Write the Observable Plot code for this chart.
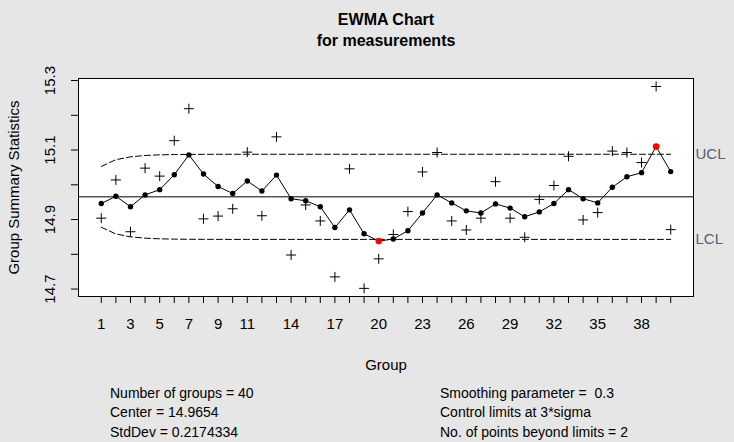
<!DOCTYPE html>
<html>
<head>
<meta charset="utf-8">
<script src="https://cdn.jsdelivr.net/npm/d3@7"></script>
<script src="https://cdn.jsdelivr.net/npm/@observablehq/plot@0.6"></script>
<style>
  html, body { margin: 0; padding: 0; background: #e6e6e6; }
  #chart { width: 734px; height: 442px; }
</style>
</head>
<body>
<div id="chart"></div>
<script>
// ---- data ----
const groups = [1,2,3,4,5,6,7,8,9,10,11,12,13,14,15,16,17,18,19,20,21,22,23,24,25,26,27,28,29,30,31,32,33,34,35,36,37,38,39,40];
const stats = [14.904,15.014,14.865,15.048,15.025,15.127,15.219,14.902,14.910,14.931,
               15.094,14.911,15.138,14.798,14.942,14.896,14.735,15.046,14.702,14.787,
               14.857,14.923,15.037,15.093,14.896,14.870,14.904,15.009,14.904,14.849,
               14.958,14.998,15.082,14.899,14.920,15.097,15.093,15.064,15.283,14.871];
const ewma = [14.946,14.967,14.937,14.971,14.986,15.029,15.086,15.031,14.995,14.975,
              15.011,14.982,15.028,14.960,14.954,14.937,14.877,14.928,14.859,14.838,
              14.844,14.868,14.919,14.971,14.948,14.925,14.919,14.945,14.933,14.908,
              14.922,14.946,14.986,14.960,14.948,14.993,15.023,15.035,15.110,15.038];
const ucl = [15.0529,15.0722,15.0805,15.0844,15.0862,15.0871,15.0875,15.0877,15.0878,15.0879,
             15.0879,15.0879,15.0879,15.0879,15.0879,15.0879,15.0879,15.0879,15.0879,15.0879,
             15.0879,15.0879,15.0879,15.0879,15.0879,15.0879,15.0879,15.0879,15.0879,15.0879,
             15.0879,15.0879,15.0879,15.0879,15.0879,15.0879,15.0879,15.0879,15.0879,15.0879];
const lcl = [14.8779,14.8586,14.8503,14.8464,14.8446,14.8437,14.8433,14.8431,14.8430,14.8429,
             14.8429,14.8429,14.8429,14.8429,14.8429,14.8429,14.8429,14.8429,14.8429,14.8429,
             14.8429,14.8429,14.8429,14.8429,14.8429,14.8429,14.8429,14.8429,14.8429,14.8429,
             14.8429,14.8429,14.8429,14.8429,14.8429,14.8429,14.8429,14.8429,14.8429,14.8429];
const center = 14.9654;
const xTickLabels = [1,3,5,7,9,11,14,17,20,23,26,29,32,35,38];
const yTicks = [14.7,14.8,14.9,15.0,15.1,15.2,15.3];
const yTickLabels = [14.7,14.9,15.1,15.3];
const titleLines = ["EWMA Chart", "for measurements"];
const statsLeft = ["Number of groups = 40", "Center = 14.9654", "StdDev = 0.2174334"];
const statsRight = ["Smoothing parameter =  0.3", "Control limits at 3*sigma", "No. of points beyond limits = 2"];

// ---- table built from the arrays ----
const rows = groups.map((g, i) => ({g, stat: stats[i], ewma: ewma[i], ucl: ucl[i], lcl: lcl[i]}));
const out = d => d.ewma > d.ucl || d.ewma < d.lcl;

const plusSymbol = {
  draw(context, size) {
    const s = Math.sqrt(size / Math.PI);
    context.moveTo(-s, 0); context.lineTo(s, 0);
    context.moveTo(0, -s); context.lineTo(0, s);
  }
};

const font = "'Liberation Sans', Arial, sans-serif";

const chart = Plot.plot({
  width: 734,
  height: 442,
  marginTop: 78,
  marginBottom: 146,
  marginLeft: 78,
  marginRight: 41,
  style: {background: "#e6e6e6", fontFamily: font, color: "black", overflow: "visible"},
  x: {domain: [-0.56, 41.56]},
  y: {domain: [14.6786, 15.3059]},
  r: {type: "identity"},
  marks: [
    Plot.frame({fill: "white"}),
    Plot.ruleY([center], {stroke: "black", strokeWidth: 1}),
    Plot.line(rows, {x: "g", y: "ucl", stroke: "black", strokeWidth: 1, strokeDasharray: "6,3"}),
    Plot.line(rows, {x: "g", y: "lcl", stroke: "black", strokeWidth: 1, strokeDasharray: "6,3"}),
    Plot.line(rows, {x: "g", y: "ewma", stroke: "black", strokeWidth: 1}),
    Plot.dot(rows, {x: "g", y: "stat", symbol: plusSymbol, r: 5, stroke: "black", strokeWidth: 1, fill: "none"}),
    Plot.dot(rows, {x: "g", y: "ewma", r: d => out(d) ? 3.3 : 2.7, fill: d => out(d) ? "#ff0000" : "black", stroke: "none"}),
    Plot.axisX({ticks: groups, tickSize: 7, tickPadding: 15, fontSize: 15, label: null,
                tickFormat: d => xTickLabels.includes(d) ? String(d) : ""}),
    Plot.axisY({ticks: yTicks, tickSize: 7, label: null, tickFormat: () => ""}),
    Plot.text(yTickLabels, {y: d => d, text: d => d.toFixed(1), frameAnchor: "left", dx: -28, rotate: -90,
                            textAnchor: "middle", lineAnchor: "middle", fontSize: 15, fill: "black"}),
    Plot.text(["Group Summary Statistics"], {frameAnchor: "left", dx: -64, rotate: -90,
                            textAnchor: "middle", lineAnchor: "middle", fontSize: 15, fill: "black"}),
    Plot.text(["Group"], {frameAnchor: "bottom", dy: 69, lineAnchor: "middle", fontSize: 15, fill: "black"}),
    Plot.text([titleLines[0]], {frameAnchor: "top", dy: -59, lineAnchor: "middle", fontSize: 16, fontWeight: "bold", fill: "black"}),
    Plot.text([titleLines[1]], {frameAnchor: "top", dy: -38, lineAnchor: "middle", fontSize: 16, fontWeight: "bold", fill: "black"}),
    Plot.text([{y: ucl[ucl.length - 1], t: "UCL"}, {y: lcl[lcl.length - 1], t: "LCL"}],
              {y: "y", text: "t", frameAnchor: "right", dx: 2, textAnchor: "start", fontSize: 15, fill: "#555f6e"}),
    Plot.frame({stroke: "black", strokeWidth: 1})
  ]
});
document.getElementById("chart").appendChild(chart);

// summary lines below the chart, as real text inside the SVG
const svg = d3.select(chart);
const statG = svg.append("g")
  .attr("font-family", font).attr("font-size", 14).attr("fill", "black").attr("text-anchor", "start");
const lineY = [393, 412, 432];
statsLeft.forEach((s, i) => statG.append("text").attr("x", 110).attr("y", lineY[i]).attr("dy", "0.35em")
  .attr("xml:space", "preserve").style("white-space", "pre").text(s));
statsRight.forEach((s, i) => statG.append("text").attr("x", 440).attr("y", lineY[i]).attr("dy", "0.35em")
  .attr("xml:space", "preserve").style("white-space", "pre").text(s));
</script>
</body>
</html>
